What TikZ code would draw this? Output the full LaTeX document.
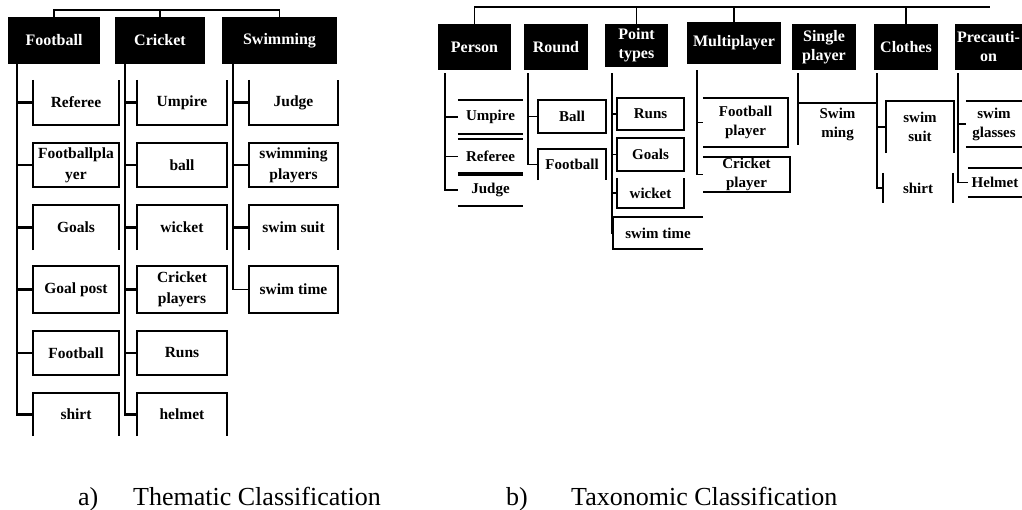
\documentclass[tikz,border=0pt]{standalone}
\usepackage{fontspec}
\setmainfont{Liberation Serif}
\newcommand\sidesBottom[1]{\draw[boxline] (#1.north west) -- (#1.south west) -- (#1.south east) -- (#1.north east);}
\newcommand\sidesTop[1]{\draw[boxline] (#1.south west) -- (#1.north west) -- (#1.north east) -- (#1.south east);}
\newcommand\openLeft[1]{\draw[boxline] (#1.north west) -- (#1.north east) -- (#1.south east) -- (#1.south west);}
\newcommand\openRight[1]{\draw[boxline] (#1.north east) -- (#1.north west) -- (#1.south west) -- (#1.south east);}
\newcommand\topBottom[1]{\draw[boxline] (#1.north west) -- (#1.north east) (#1.south west) -- (#1.south east);}
\newcommand\sidesOnly[1]{\draw[boxline] (#1.north west) -- (#1.south west) (#1.north east) -- (#1.south east);}
\begin{document}
\begin{tikzpicture}[x=1pt,y=-1pt,
  hdr/.style={fill=black,text=white,font=\bfseries\fontsize{16}{19}\selectfont,inner sep=0pt,align=center},
  leaf/.style={font=\bfseries\fontsize{15.5}{21}\selectfont,inner sep=0pt,align=center},
  rleaf/.style={font=\bfseries\fontsize{15}{19}\selectfont,inner sep=0pt,align=center},
  boxline/.style={line width=1.6pt},
  fullbox/.style={draw,line width=1.6pt},
  spine/.style={line width=2.6pt},
  thinspine/.style={line width=1.8pt},
  tick/.style={line width=1.1pt},
  bus/.style={line width=1.8pt},
  captxt/.style={font=\fontsize{26}{30}\selectfont,inner sep=0pt,anchor=base west}]
\useasboundingbox (0,0) rectangle (1022,509);

% ---------- a) Thematic ----------
\node[hdr,minimum width=92pt,minimum height=47pt] (fb) at (54,40.5) {Football};
\node[hdr,minimum width=90pt,minimum height=47pt] (cr) at (160,40.5) {Cricket};
\node[hdr,minimum width=115pt,minimum height=47pt] (sw) at (279.5,40.5) {Swimming};
\coordinate (busL) at (0,10);
\draw[bus] (fb.north) -- (fb.north |- busL) -- (sw.north |- busL) -- (sw.north);
\draw[bus] (cr.north) -- (cr.north |- busL);

% Football column
\node[leaf,minimum width=86pt,minimum height=45pt] (f1) at (76,102.5) {Referee};
\node[leaf,fullbox,minimum width=86pt,minimum height=44pt] (f2) at (76,165) {Footballpla\\yer};
\node[leaf,minimum width=86pt,minimum height=45pt] (f3) at (76,227.5) {Goals};
\node[leaf,fullbox,minimum width=86pt,minimum height=47pt] (f4) at (76,289.5) {Goal post};
\node[leaf,fullbox,minimum width=86pt,minimum height=44pt] (f5) at (76,353) {Football};
\node[leaf,minimum width=86pt,minimum height=43pt] (f6) at (76,414.5) {shirt};
\sidesBottom{f1}
\sidesTop{f3}
\sidesTop{f6}
\coordinate (fbs) at ([xshift=9pt]fb.south west);
\draw[spine] (fbs) |- (f6.west);
\foreach \n in {f1,f2,f3,f4,f5} \draw[spine] (fbs |- \n.west) -- (\n.west);

% Cricket column
\node[leaf,minimum width=90pt,minimum height=45pt] (c1) at (182,102.5) {Umpire};
\node[leaf,fullbox,minimum width=90pt,minimum height=44pt] (c2) at (182,165) {ball};
\node[leaf,minimum width=90pt,minimum height=45pt] (c3) at (182,227.5) {wicket};
\node[leaf,fullbox,minimum width=90pt,minimum height=47pt] (c4) at (182,289.5) {Cricket\\players};
\node[leaf,fullbox,minimum width=90pt,minimum height=44pt] (c5) at (182,353) {Runs};
\node[leaf,minimum width=90pt,minimum height=43pt] (c6) at (182,414.5) {helmet};
\sidesBottom{c1}
\sidesTop{c3}
\sidesTop{c6}
\coordinate (crs) at ([xshift=10pt]cr.south west);
\draw[spine] (crs) |- (c6.west);
\foreach \n in {c1,c2,c3,c4,c5} \draw[spine] (crs |- \n.west) -- (\n.west);

% Swimming column
\node[leaf,minimum width=89pt,minimum height=45pt] (s1) at (293.5,102.5) {Judge};
\node[leaf,fullbox,minimum width=89pt,minimum height=44pt] (s2) at (293.5,165) {swimming\\players};
\node[leaf,minimum width=89pt,minimum height=45pt] (s3) at (293.5,227.5) {swim suit};
\node[leaf,fullbox,minimum width=89pt,minimum height=47pt] (s4) at (293.5,289.5) {swim time};
\sidesBottom{s1}
\sidesTop{s3}
\coordinate (sws) at ([xshift=11pt]sw.south west);
\draw[thinspine] (sws) |- (s4.west);
\foreach \n in {s1,s2,s3} \draw[spine] (sws |- \n.west) -- (\n.west);

% ---------- b) Taxonomic ----------
\node[hdr,minimum width=73pt,minimum height=46pt] (pe) at (474.5,47) {Person};
\node[hdr,minimum width=64pt,minimum height=46pt] (ro) at (556,47) {Round};
\node[hdr,minimum width=63pt,minimum height=43pt] (pt) at (636.5,45.5) {Point\\types};
\node[hdr,minimum width=94pt,minimum height=42pt] (mp) at (734,43) {Multiplayer};
\node[hdr,minimum width=64pt,minimum height=46pt] (sp) at (824,47) {Single\\player};
\node[hdr,minimum width=64pt,minimum height=46pt] (cl) at (906,47) {Clothes};
\node[hdr,minimum width=67pt,minimum height=46pt] (pc) at (988.5,47) {Precauti-\\on};
\coordinate (busR) at (990,7);
\draw[bus] (pe.north) -- (pe.north |- busR) -- (busR);
\foreach \n in {pt,mp,cl} \draw[bus] (\n.north) -- (\n.north |- busR);

% Person
\node[rleaf,minimum width=65pt,minimum height=34pt] (pu) at (490.5,117) {Umpire};
\node[rleaf,minimum width=65pt,minimum height=35pt] (pr) at (490.5,156.5) {Referee};
\node[rleaf,minimum width=65pt,minimum height=32pt] (pj) at (490.5,190) {Judge};
\topBottom{pu}
\draw[boxline] (pr.north west) -- (pr.north east);
\draw[line width=4pt] (pr.south west) -- (pr.south east);
\draw[boxline] (pj.south west) -- (pj.south east);
\coordinate (pes) at (445,73);
\draw[thinspine] (pes) |- (pj.west);
\foreach \n in {pu,pr} \draw[thinspine] (pes |- \n.west) -- (\n.west);

% Round
\node[rleaf,fullbox,minimum width=68pt,minimum height=33pt] (rb) at (572,116.5) {Ball};
\node[rleaf,minimum width=68pt,minimum height=31pt] (rf) at (572,164.5) {Football};
\sidesTop{rf}
\coordinate (ros) at (528,73);
\draw[thinspine] (ros) |- (rf.west);
\draw[thinspine] (ros |- rb.west) -- (rb.west);

% Point types
\node[rleaf,fullbox,minimum width=67pt,minimum height=32pt] (pru) at (650.5,114) {Runs};
\node[rleaf,fullbox,minimum width=67pt,minimum height=33pt] (pgo) at (650.5,154.5) {Goals};
\node[rleaf,minimum width=67pt,minimum height=30pt] (pwi) at (650.5,193) {wicket};
\node[rleaf,minimum width=90pt,minimum height=32pt] (pst) at (658,233) {swim time};
\sidesBottom{pwi}
\openRight{pst}
\coordinate (pts) at (612,73);
\draw[thinspine] (pts) |- (pst.west);
\foreach \n in {pru,pgo,pwi} \draw[tick] (pts |- \n.west) -- (\n.west);

% Multiplayer
\node[rleaf,minimum width=85pt,minimum height=49pt] (mfp) at (745.5,122.5) {Football\\player};
\node[rleaf,minimum width=87pt,minimum height=35pt] (mcp) at (746.5,174.5) {Cricket\\player};
\openLeft{mfp}
\openLeft{mcp}
\coordinate (mps) at (697,70);
\draw[thinspine] (mps) |- (mcp.west);
\draw[tick] (mps |- mfp.west) -- (mfp.west);

% Single player
\node[rleaf,minimum width=79pt,minimum height=42pt] (ssw) at (837.5,124) {Swim\\ming};
\draw[boxline] (ssw.north west) -- (ssw.north east);
\coordinate (sps) at (798,73);
\draw[thinspine] (sps) -- (sps |- ssw.south);

% Clothes
\node[rleaf,minimum width=68pt,minimum height=52pt] (css) at (920,127) {swim\\suit};
\node[rleaf,minimum width=70pt,minimum height=30pt] (csh) at (918,188) {shirt};
\sidesTop{css}
\sidesOnly{csh}
\coordinate (cls) at (877,73);
\draw[thinspine] (cls) |- (csh.west);
\draw[thinspine] (cls |- css.west) -- (css.west);

% Precautions
\node[rleaf,minimum width=56pt,minimum height=46pt] (pgl) at (994,124) {swim\\glasses};
\node[rleaf,minimum width=54pt,minimum height=29pt] (phe) at (995,182.5) {Helmet};
\topBottom{pgl}
\topBottom{phe}
\coordinate (pcs) at (958,73);
\draw[tick] (pcs) |- (phe.west);
\draw[tick] (pcs |- pgl.west) -- (pgl.west);

% ---------- captions ----------
\node[captxt] (ca) at (78,505) {a)};
\node[captxt] (ct) at (133,505) {Thematic Classification};
\node[captxt] (cb) at (506,505) {b)};
\node[captxt] (cx) at (571,505) {Taxonomic Classification};
\end{tikzpicture}
\end{document}
